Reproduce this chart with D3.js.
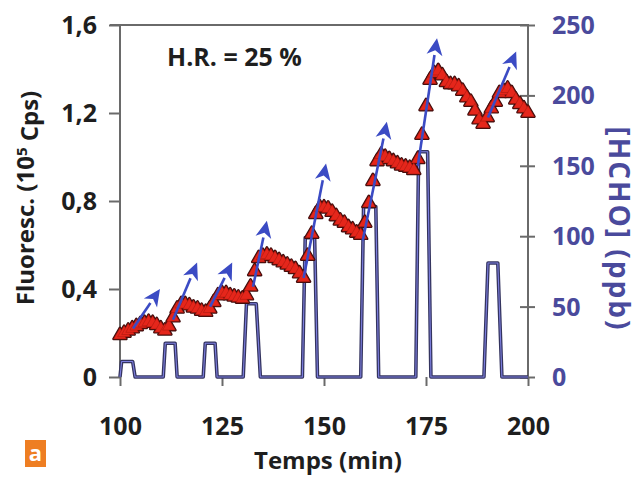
<!DOCTYPE html>
<html><head><meta charset="utf-8">
<script src="https://cdn.jsdelivr.net/npm/d3@7"></script>
<style>
body{margin:0;background:#fff}
svg{display:block}
text{font-family:"Open Sans",sans-serif;font-weight:700}
</style>
</head><body>
<svg id="c" width="642" height="485"></svg>
<script>
// ---------- data ----------
const xTicks = [100, 125, 150, 175, 200];
const leftTicks = [0, 0.4, 0.8, 1.2, 1.6];
const rightTicks = [0, 50, 100, 150, 200, 250];

// fluorescence (10^5 Cps), one value per minute from t = 100 to 200
const fluoStart = 100;
const fluoValues = [
  0.19,0.20,0.21,0.22,0.23,0.24,0.245,0.25,0.245,0.235,
  0.22,0.21,0.23,0.27,0.31,0.33,0.33,0.325,0.315,0.31,
  0.30,0.295,0.31,0.34,0.37,0.38,0.38,0.37,0.365,0.36,
  0.355,0.37,0.41,0.48,0.54,0.55,0.555,0.55,0.54,0.53,
  0.52,0.51,0.50,0.49,0.47,0.45,0.55,0.65,0.74,0.77,
  0.77,0.765,0.75,0.73,0.71,0.70,0.68,0.67,0.655,0.645,
  0.70,0.79,0.89,0.98,1.01,1.00,0.99,0.98,0.97,0.96,
  0.955,0.95,0.94,0.99,1.10,1.23,1.35,1.38,1.39,1.37,
  1.34,1.33,1.33,1.32,1.30,1.27,1.25,1.21,1.17,1.15,
  1.18,1.22,1.25,1.29,1.30,1.31,1.29,1.26,1.24,1.22,
  1.20
];

// [HCHO] (ppb) injection pulses
const hchoTime  = [100,100.4,103.1,103.7, 110.6,111.1,113.5,114.0, 120.4,120.9,123.3,123.8,
                   130.2,131.0,133.4,134.4, 144.7,145.4,147.7,148.4, 159.0,159.7,162.7,163.4,
                   172.5,173.2,175.4,176.2, 189.2,190.2,192.6,193.6, 200];
const hchoValue = [0,11,11,0, 0,24,24,0, 0,24,24,0,
                   0,52,52,0, 0,99,99,0, 0,121,121,0,
                   0,160,160,0, 0,81,81,0, 0];

// blue arrows (time, fluorescence)
const arrowStartT = [103.2, 113.0, 122.1, 132.6, 145.0, 159.5, 173.0, 190.2];
const arrowStartV = [0.22, 0.26, 0.32, 0.41, 0.45, 0.62, 0.96, 1.18];
const arrowEndT   = [109.8, 118.9, 127.5, 136.0, 150.5, 165.4, 177.7, 197.1];
const arrowEndV   = [0.40, 0.52, 0.52, 0.71, 0.97, 1.16, 1.54, 1.48];

// ---------- layout ----------
const svg = d3.select("#c");
const x = d3.scaleLinear().domain([100, 200]).range([120, 528]);
const yL = d3.scaleLinear().domain([0, 1.6]).range([377, 25]);
const yR = d3.scaleLinear().domain([0, 250]).range([377, 25]);
const axisCol = "#6a6a6a";
const blueTxt = "#4a4a9c";

svg.append("rect").attr("width",642).attr("height",485).attr("fill","#fff");

// frame lines
svg.append("line").attr("x1",110).attr("x2",528).attr("y1",yL(1.6)).attr("y2",yL(1.6))
  .attr("stroke",axisCol).attr("stroke-width",2);
svg.append("line").attr("x1",x(100)).attr("x2",x(100)).attr("y1",yL(1.6)).attr("y2",yL(0))
  .attr("stroke",axisCol).attr("stroke-width",2);
svg.append("line").attr("x1",x(200)).attr("x2",x(200)).attr("y1",yR(250)-1).attr("y2",yR(0))
  .attr("stroke",axisCol).attr("stroke-width",2);

// left axis
const gL = svg.append("g").attr("transform",`translate(${x(100)},0)`)
  .call(d3.axisLeft(yL).tickValues(leftTicks).tickSize(11).tickPadding(12)
    .tickFormat(d => d === 0 ? "0" : d.toFixed(1).replace(".", ",")));
gL.select(".domain").remove();
gL.selectAll(".tick line").attr("stroke",axisCol).attr("stroke-width",2);
gL.selectAll(".tick text").attr("fill","#1e1e1e").style("font-size","25px").attr("dy","0.34em");

// right axis
const gR = svg.append("g").attr("transform",`translate(${x(200)},0)`)
  .call(d3.axisRight(yR).tickValues(rightTicks).tickSize(7).tickPadding(17));
gR.select(".domain").remove();
gR.selectAll(".tick line").attr("x1",-8).attr("stroke",axisCol).attr("stroke-width",2);
gR.selectAll(".tick text").attr("fill",blueTxt).style("font-size","25px").attr("dy","0.34em");

// bottom axis
const gB = svg.append("g").attr("transform",`translate(0,${yL(0)})`)
  .call(d3.axisBottom(x).tickValues(xTicks).tickSize(9).tickPadding(31));
gB.select(".domain").remove();
gB.selectAll(".tick line").attr("stroke",axisCol).attr("stroke-width",2);
gB.selectAll(".tick text").attr("fill","#1e1e1e").style("font-size","25px");

// HCHO pulses (double-looking line)
const hcho = hchoTime.map((t,i)=>[t,hchoValue[i]]);
const hLine = d3.line().x(d=>x(d[0])).y(d=>yR(d[1]));
svg.append("path").attr("d",hLine(hcho)).attr("fill","none")
  .attr("stroke","#34345f").attr("stroke-width",3.6).attr("stroke-linejoin","round");
svg.append("path").attr("d",hLine(hcho)).attr("fill","none")
  .attr("stroke","#7d7fe0").attr("stroke-width",1.1).attr("stroke-linejoin","round");

// fluorescence triangles
const fluo = fluoValues.map((v,i)=>[fluoStart+i, v]);
const tri = d3.symbol(d3.symbolTriangle, 72);
svg.append("g").selectAll("path").data(fluo).join("path")
  .attr("d",tri).attr("transform",d=>`translate(${x(d[0])},${yL(d[1])})`)
  .attr("fill","#3e0c0c").attr("stroke","#3e0c0c").attr("stroke-width",2.6).attr("stroke-linejoin","round");
svg.append("g").selectAll("path").data(fluo).join("path")
  .attr("d",tri).attr("transform",d=>`translate(${x(d[0])},${yL(d[1])})`)
  .attr("fill","#e5261b").attr("stroke","#a0180f").attr("stroke-width",0.5);

// arrows
const arrowCol = "#3b4bc4";
const ga = svg.append("g");
arrowStartT.forEach((t0,i)=>{
  const x0=x(t0), y0=yL(arrowStartV[i]), x1=x(arrowEndT[i]), y1=yL(arrowEndV[i]);
  const a=Math.atan2(y1-y0,x1-x0), L=17, W=8;
  const bx=x1-L*Math.cos(a), by=y1-L*Math.sin(a);
  ga.append("line").attr("x1",x0).attr("y1",y0).attr("x2",bx).attr("y2",by)
    .attr("stroke",arrowCol).attr("stroke-width",2.6);
  const p=[[x1,y1],[bx+W*Math.sin(a),by-W*Math.cos(a)],[x1-0.72*L*Math.cos(a),y1-0.72*L*Math.sin(a)],[bx-W*Math.sin(a),by+W*Math.cos(a)]];
  ga.append("path").attr("d","M"+p.map(q=>q.join(",")).join("L")+"Z").attr("fill",arrowCol);
});

// texts
svg.append("text").attr("x",167).attr("y",66).attr("fill","#1e1e1e").style("font-size","25px").text("H.R. = 25 %");
svg.append("text").attr("x",328).attr("y",469).attr("text-anchor","middle").attr("fill","#1e1e1e")
  .style("font-size","24px").text("Temps (min)");
const yl = svg.append("text").attr("transform","translate(34,198) rotate(-90)").attr("text-anchor","middle")
  .attr("fill","#1e1e1e").style("font-size","24px");
yl.append("tspan").text("Fluoresc. (10");
yl.append("tspan").attr("dy","-0.45em").style("font-size","15px").text("5");
yl.append("tspan").attr("dy","0.45em").text(" Cps)");
svg.append("text").attr("transform","translate(609,229) rotate(90)").attr("text-anchor","middle")
  .attr("fill",blueTxt).style("font-size","28px").style("letter-spacing","2px").text("[HCHO] (ppb)");

// panel tag
svg.append("rect").attr("x",25).attr("y",440).attr("width",21).attr("height",27).attr("fill","#ee7e22");
svg.append("text").attr("x",35.5).attr("y",461).attr("text-anchor","middle").attr("fill","#fff")
  .style("font-size","22px").text("a");
</script>
</body></html>
